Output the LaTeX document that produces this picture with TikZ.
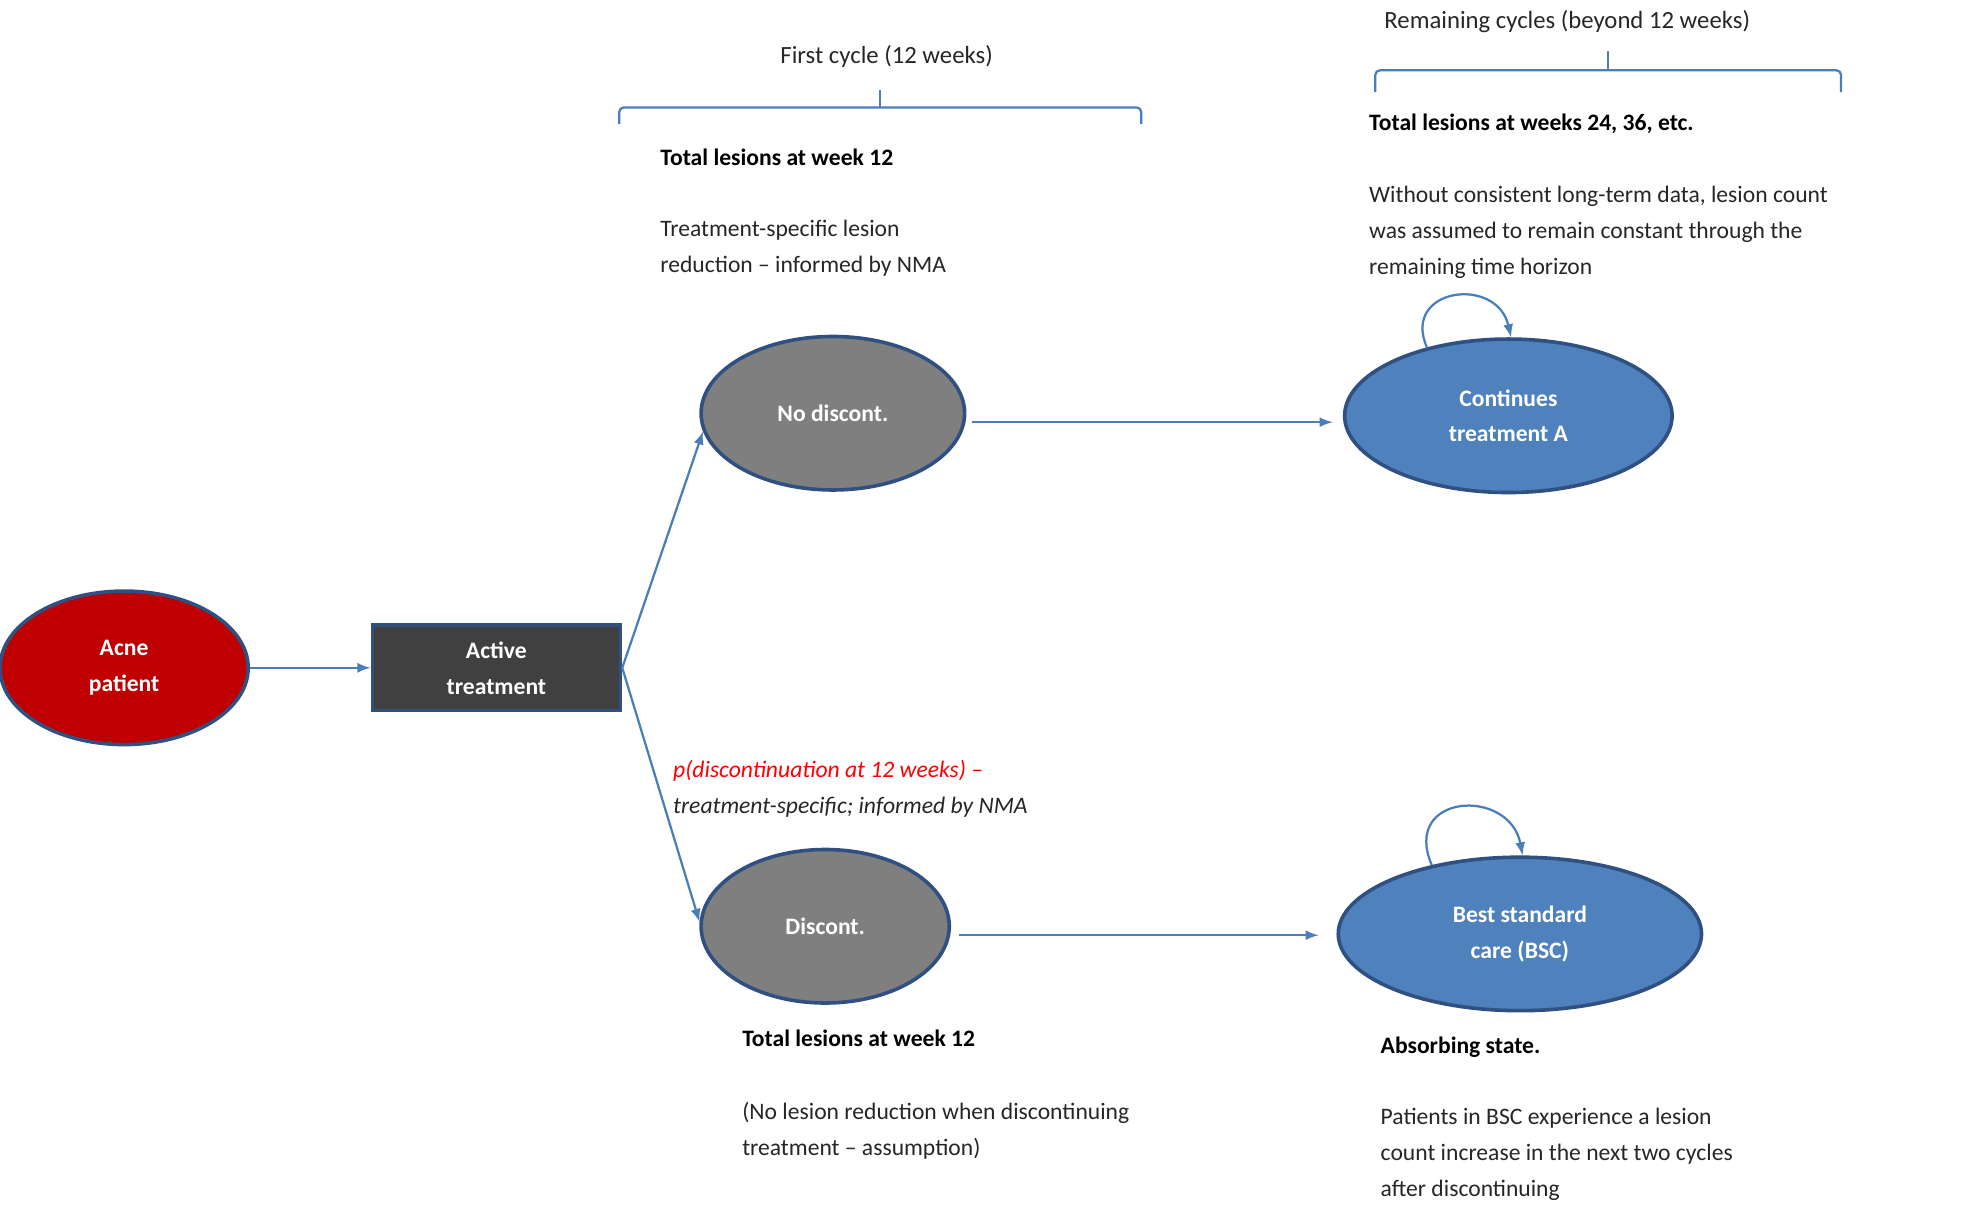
\documentclass[tikz,border=0pt]{standalone}
\usepackage{fontspec}
\setmainfont{Carlito}
\usetikzlibrary{arrows,calc,positioning,shapes.geometric}
\definecolor{edgeblue}{HTML}{4A7EBB}
\definecolor{ringblue}{HTML}{2F5080}
\definecolor{acnered}{HTML}{C00000}
\definecolor{stategray}{HTML}{7F7F7F}
\definecolor{stateblue}{HTML}{4F81BD}
\definecolor{txtgray}{HTML}{262626}
\begin{document}
\begin{tikzpicture}[x=0.02cm, y=-0.02cm, every node/.style={font=\fontsize{10.5}{13}\selectfont},
    state/.style={ellipse, draw=ringblue, line width=1.6pt, text=white, font=\fontsize{10.5}{16}\selectfont\bfseries, align=center, inner sep=0pt},
    note/.style={anchor=north west, align=left, text=txtgray, font=\fontsize{10.5}{16}\selectfont},
    flow/.style={-latex, draw=edgeblue, line width=1pt},
    brk/.style={draw=edgeblue, line width=1pt, rounded corners=2pt}]
  \useasboundingbox (0,0) rectangle (1550,952);
  % states
  \node[state, fill=acnered, minimum width=3.88cm, minimum height=2.4cm] (acne) at (97,522) {Acne\\patient};
  \node[draw=ringblue, line width=1.6pt, fill=black!75, text=white, font=\fontsize{10.5}{16}\selectfont\bfseries, align=center, minimum width=3.88cm, minimum height=1.34cm] (act) at (388,522) {Active\\treatment};
  \node[state, fill=stategray, minimum width=4.12cm, minimum height=2.4cm] (nod) at (651,323) {No discont.};
  \node[state, fill=stategray, minimum width=3.88cm, minimum height=2.4cm] (dis) at (645,724) {Discont.};
  \node[state, fill=stateblue, minimum width=5.12cm, minimum height=2.4cm] (cta) at (1179,325) {Continues\\treatment A};
  \node[state, fill=stateblue, minimum width=5.68cm, minimum height=2.4cm] (bsc) at (1188,730) {Best standard\\care (BSC)};

  % transitions
  \draw[flow] (acne.east) -- (act.west);
  \draw[flow] (act.east) -- (nod.188);
  \draw[flow] (act.east) -- (dis.178);
  \draw[flow] ($(nod.east)+(4,7)$) coordinate (n1) -- ($(cta.west)+(-8,5)$);
  \draw[flow] ($(dis.east)+(6,7)$) coordinate (d1) -- ($(bsc.west)+(-14,1)$);
  \draw[flow] (cta.140) .. controls (1095,225) and (1170,215) .. (cta.88);
  \draw[flow] (bsc.142) .. controls (1095,620) and (1180,615) .. (bsc.88);

  % brackets
  \draw[brk] (484,97) -- (484,84) -- (892,84) -- (892,97);
  \draw[brk] (688,84) -- (688,70);
  \draw[brk] (1075,72) -- (1075,55) -- (1439,55) -- (1439,72);
  \draw[brk] (1257,55) -- (1257,40);
  \node[text=txtgray, font=\fontsize{11}{13}\selectfont] (fc) at (693,44) {First cycle (12 weeks)};
  \node[text=txtgray, font=\fontsize{11}{13}\selectfont] (rc) at (1225,17) {Remaining cycles (beyond 12 weeks)};

  % notes
  \node[note, font=\fontsize{10.5}{16}\selectfont\bfseries, text=black] (t1) at (510,110) {Total lesions at week 12};
  \node[note] (t2) at (510,166) {Treatment-specific lesion\\reduction -- informed by NMA};
  \node[note, font=\fontsize{10.5}{16}\selectfont\bfseries, text=black] (t3) at (1064,83) {Total lesions at weeks 24, 36, etc.};
  \node[note] (t4) at (1064,139) {Without consistent long-term data, lesion count\\was assumed to remain constant through the\\remaining time horizon};
  \node[note, font=\fontsize{10.5}{16}\selectfont\itshape] (t5) at (520,588) {\textcolor{red}{p(discontinuation at 12 weeks) --}\\treatment-specific; informed by NMA};
  \node[note, font=\fontsize{10.5}{16}\selectfont\bfseries, text=black] (t6) at (574,799) {Total lesions at week 12};
  \node[note] (t7) at (574,855) {(No lesion reduction when discontinuing\\treatment -- assumption)};
  \node[note, font=\fontsize{10.5}{16}\selectfont\bfseries, text=black] (t8) at (1073,804) {Absorbing state.};
  \node[note] (t9) at (1073,860) {Patients in BSC experience  a lesion\\count increase in the next two cycles\\after discontinuing};
\end{tikzpicture}
\end{document}
